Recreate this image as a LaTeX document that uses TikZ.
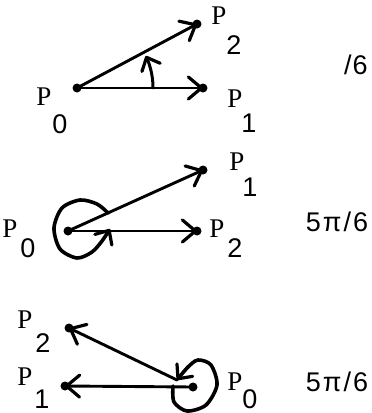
\documentclass[tikz,border=0pt]{standalone}
\usepackage{fontspec}
\setmainfont{Liberation Serif}
\newfontfamily\numfont{Liberation Sans}
\usetikzlibrary{arrows.meta}
\begin{document}
\begin{tikzpicture}[x=1pt,y=-1pt,
  vec/.style={line width=2.9pt, line cap=round,
    -{Straight Barb[length=13pt,width=22pt,line width=3.2pt,round]}},
  turn/.style={line width=3.6pt, line cap=round, line join=round,
    -{Straight Barb[length=11pt,width=20pt,line width=3.2pt,round]}},
  pt/.style={circle,fill,inner sep=0pt,minimum size=9pt},
  pl/.style={inner sep=0pt, font=\fontsize{27}{32}\selectfont},
  sub/.style={inner sep=0pt, font=\numfont\fontsize{27}{32}\selectfont}]
\useasboundingbox (0,0) rectangle (372,413);

% ---------- panel 1 ----------
\node[pt] (a0) at (77,88) {};
\node[pt] (a1) at (203,88) {};
\node[pt] (a2) at (197,24) {};
\draw[vec] (a0.center) -- (a1.center);
\draw[vec] (a0.center) -- (a2.center);
\draw[turn,line width=3pt] plot[domain=0:25,samples=20] ({77+76*cos(\x)},{88-76*sin(\x)});
\node[pl] (a0P) at (44,97) {P};  \node[sub] (a0s) at (60,124) {0};
\node[pl] (a1P) at (235,99) {P}; \node[sub] (a1s) at (249,123) {1};
\node[pl] (a2P) at (219,16) {P}; \node[sub] (a2s) at (234,45) {2};
\node[sub] (a3) at (356,65) {/\kern1pt6};

% ---------- panel 2 ----------
\node[pt] (b0) at (68,231) {};
\node[pt] (b1) at (203,170) {};
\node[pt] (b2) at (197,231) {};
\draw[vec] (b0.center) -- (b1.center);
\draw[vec] (b0.center) -- (b2.center);
\draw[turn] plot[smooth] coordinates {(108,213) (97,204) (80,200) (62,208) (54,228) (60,249) (77,258) (92,252) (102,241) (110,229)};
\node[pl] (b0P) at (10,229) {P};  \node[sub] (b0s) at (28,248) {0};
\node[pl] (b1P) at (237,162) {P}; \node[sub] (b1s) at (250,187) {1};
\node[pl] (b2P) at (217,229) {P}; \node[sub] (b2s) at (235,248) {2};
\node[sub] (b3) at (337,222) {5\kern2ptπ\kern2pt/\kern2pt6};

% ---------- panel 3 ----------
\node[pt] (c0) at (193,387) {};
\node[pt] (c1) at (65,386) {};
\node[pt] (c2) at (69,328) {};
\coordinate (c0a) at (177,380);
\draw[vec] (c0.center) -- (c1.center);
\draw[vec] (c0a) -- (c2.center);
\draw[turn] plot[smooth] coordinates {(173,386) (174,402) (187,411) (206,405) (217,385) (211,365) (198,360) (188,367) (177,380)};
\node[pl] (c2P) at (25,320) {P};  \node[sub] (c2s) at (43,343) {2};
\node[pl] (c1P) at (25,377) {P};  \node[sub] (c1s) at (42,399) {1};
\node[pl] (c0P) at (235,382) {P}; \node[sub] (c0s) at (250,399) {0};
\node[sub] (c3) at (337,382) {5\kern2ptπ\kern2pt/\kern2pt6};
\end{tikzpicture}
\end{document}
